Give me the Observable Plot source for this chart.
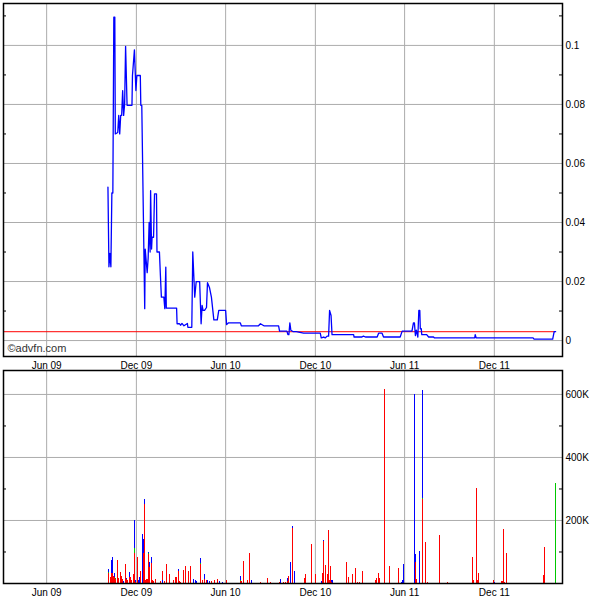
<!DOCTYPE html>
<html><head><meta charset="utf-8">
<script src="https://cdn.jsdelivr.net/npm/d3@7"></script>
<script src="https://cdn.jsdelivr.net/npm/@observablehq/plot@0.6"></script>
<style>
body{margin:0;background:#fff;}
#wrap{position:relative;width:600px;height:600px;overflow:hidden;}
#top,#bot{position:absolute;left:0;}
#top{top:0px}
#bot{top:365px}
</style></head><body><div id="wrap"><div id="top"></div><div id="bot"></div></div>
<script>
// ---- data ----
const priceDates = ["2009-10-04","2009-10-06","2009-10-08","2009-10-10","2009-10-12","2009-10-14","2009-10-16","2009-10-18","2009-10-19","2009-10-24","2009-10-26","2009-10-28","2009-10-30","2009-11-01","2009-11-03","2009-11-05","2009-11-07","2009-11-09","2009-11-12","2009-11-22","2009-11-23","2009-11-27","2009-11-30","2009-12-02","2009-12-09","2009-12-10","2009-12-12","2009-12-18","2009-12-19","2009-12-23","2009-12-25","2009-12-27","2009-12-29","2009-12-30","2010-01-01","2010-01-02","2010-01-05","2010-01-07","2010-01-11","2010-01-12","2010-01-17","2010-01-19","2010-01-21","2010-01-26","2010-01-28","2010-01-30","2010-01-31","2010-02-21","2010-02-22","2010-02-27","2010-03-01","2010-03-04","2010-03-08","2010-03-15","2010-03-16","2010-03-24","2010-03-26","2010-03-30","2010-04-02","2010-04-09","2010-04-12","2010-04-14","2010-04-16","2010-04-19","2010-04-23","2010-04-25","2010-04-29","2010-05-03","2010-05-08","2010-05-15","2010-05-18","2010-06-01","2010-06-03","2010-06-07","2010-07-01","2010-07-03","2010-08-07","2010-08-11","2010-08-18","2010-09-17","2010-09-19","2010-10-04","2010-10-06","2010-10-08","2010-10-10","2010-10-12","2010-10-17","2010-10-23","2010-11-07","2010-12-11","2010-12-13","2010-12-18","2010-12-21","2010-12-25","2010-12-28","2010-12-30","2011-01-02","2011-01-04","2011-02-17","2011-02-18","2011-03-06","2011-03-09","2011-03-13","2011-04-06","2011-04-09","2011-04-16","2011-04-19","2011-05-23","2011-05-27","2011-06-16","2011-06-19","2011-06-21","2011-06-23","2011-06-25","2011-06-28","2011-06-30","2011-07-02","2011-07-03","2011-07-05","2011-07-06","2011-07-16","2011-07-20","2011-07-30","2011-08-01","2011-10-22","2011-10-23","2011-10-25","2012-02-18","2012-02-20","2012-03-29","2012-04-01","2012-04-04"];
const prices = [0.052,0.025,0.0295,0.025,0.050,0.050,0.1096,0.1096,0.070,0.0705,0.0763,0.070,0.0763,0.0763,0.0847,0.0763,0.080,0.0997,0.0797,0.0797,0.0898,0.0985,0.0847,0.0898,0.0898,0.0797,0.0797,0.0108,0.031,0.023,0.028,0.040,0.030,0.0508,0.031,0.035,0.035,0.0497,0.0497,0.030,0.030,0.022,0.0147,0.0147,0.0108,0.0249,0.011,0.011,0.0057,0.0057,0.0052,0.0058,0.005,0.0058,0.0045,0.0045,0.030,0.0147,0.020,0.020,0.0057,0.0119,0.0102,0.0102,0.0112,0.0196,0.018,0.0147,0.007,0.007,0.0102,0.0102,0.0054,0.0060,0.0060,0.005,0.005,0.0057,0.005,0.005,0.0032,0.0032,0.002,0.002,0.006,0.0035,0.003,0.003,0.0025,0.0025,0.0009,0.0012,0.0009,0.0015,0.0015,0.0102,0.0085,0.002,0.002,0.0012,0.0012,0.0015,0.0012,0.0012,0.0025,0.0025,0.0012,0.0012,0.0032,0.0032,0.006,0.006,0.0017,0.0035,0.0012,0.0102,0.0102,0.004,0.004,0.002,0.002,0.0012,0.0012,0.0009,0.0009,0.002,0.0009,0.0009,0.0005,0.0005,0.003,0.003];
const refPrice = 0.003;

// volume, thousands of shares: red / green / blue portions
const volDates = ["2009-10-05","2009-10-09","2009-10-12","2009-10-14","2009-10-16","2009-10-18","2009-10-20","2009-10-23","2009-10-25","2009-10-29","2009-11-01","2009-11-03","2009-11-05","2009-11-09","2009-11-10","2009-11-13","2009-11-17","2009-11-18","2009-11-22","2009-11-25","2009-11-27","2009-11-29","2009-12-03","2009-12-05","2009-12-07","2009-12-10","2009-12-14","2009-12-16","2009-12-18","2009-12-20","2009-12-22","2009-12-24","2009-12-26","2009-12-28","2009-12-31","2010-01-02","2010-01-05","2010-01-09","2010-01-20","2010-01-23","2010-01-24","2010-01-27","2010-01-31","2010-02-01","2010-02-06","2010-02-14","2010-02-19","2010-02-21","2010-02-25","2010-02-27","2010-03-01","2010-03-08","2010-03-12","2010-03-17","2010-03-21","2010-03-28","2010-03-31","2010-04-02","2010-04-11","2010-04-15","2010-04-19","2010-04-23","2010-04-25","2010-04-29","2010-05-04","2010-05-09","2010-05-16","2010-05-20","2010-05-26","2010-06-03","2010-07-02","2010-07-04","2010-07-08","2010-07-16","2010-07-19","2010-07-24","2010-08-11","2010-08-26","2010-09-01","2010-09-19","2010-09-21","2010-09-27","2010-10-01","2010-10-06","2010-10-08","2010-10-12","2010-10-16","2010-10-20","2010-11-09","2010-11-11","2010-11-23","2010-12-01","2010-12-13","2010-12-15","2010-12-17","2010-12-21","2010-12-25","2010-12-27","2010-12-29","2010-12-31","2011-01-02","2011-01-04","2011-02-02","2011-02-06","2011-02-14","2011-02-21","2011-02-25","2011-03-01","2011-03-07","2011-04-03","2011-04-05","2011-04-09","2011-04-11","2011-04-21","2011-05-01","2011-05-20","2011-05-26","2011-05-28","2011-05-30","2011-06-21","2011-06-23","2011-06-25","2011-07-02","2011-07-07","2011-07-13","2011-07-17","2011-08-11","2011-08-28","2011-10-18","2011-10-20","2011-10-26","2011-10-28","2011-10-30","2011-11-30","2011-12-02","2011-12-15","2011-12-17","2011-12-20","2011-12-22","2011-12-26","2012-03-11","2012-03-12","2012-04-04"];
const volRed   = [33,18,31,31,22,18,14,73,15,36,22,12,0,61,12,11,19,20,8,29,96,4,83,0,0,38,0,96,250,8,14,14,91,50,64,8,6,14,6,38,0,6,0,61,27,11,19,19,38,6,4,42,55,38,53,0,0,0,61,8,14,8,0,0,6,10,12,0,0,10,6,6,71,10,96,0,4,16,4,4,0,4,4,6,21,0,176,0,15,28,125,28,0,31,133,56,28,169,10,53,4,0,67,19,29,48,4,4,38,10,15,32,15,616,54,48,0,0,0,0,67,12,0,267,130,4,152,4,83,8,302,10,32,10,0,6,6,171,3,95,25,114,0];
const volGreen = [2,0,2,2,0,0,2,0,0,0,0,0,0,0,2,0,0,0,0,0,16,0,0,0,0,0,0,0,0,0,0,0,5,0,0,0,0,0,0,0,0,0,0,0,0,0,0,0,0,0,0,0,0,0,0,0,0,0,3,0,0,0,0,0,0,0,0,0,0,0,2,0,0,0,0,0,0,0,0,0,0,0,0,0,0,0,0,0,0,0,0,0,0,0,0,0,0,0,0,0,0,0,0,0,0,0,0,0,0,0,0,0,0,0,0,0,0,0,0,0,0,0,0,3,0,0,0,0,0,0,0,0,0,0,0,0,0,0,0,0,0,0,318];
const volBlue  = [9,0,40,50,0,15,0,0,0,0,0,0,6,0,3,0,15,0,0,0,88,4,0,10,20,0,156,44,16,0,0,0,3,18,18,0,0,0,0,0,10,0,30,0,0,0,0,0,6,0,0,0,0,0,0,14,8,6,15,0,15,0,8,6,0,0,0,6,4,0,14,0,0,0,0,8,0,0,0,0,12,0,0,10,0,67,6,38,0,0,0,0,6,0,3,0,0,0,0,0,6,10,0,0,0,0,0,0,0,0,0,0,0,0,0,0,4,10,60,600,25,0,100,342,0,0,0,0,0,0,0,0,0,0,4,0,0,0,0,0,0,0,0];

const tickDates  = ["2009-06-01","2009-12-01","2010-06-01","2010-12-01","2011-06-01","2011-12-01"];
const tickLabels = ["Jun 09","Dec 09","Jun 10","Dec 10","Jun 11","Dec 11"];
const priceTicks = [0,0.02,0.04,0.06,0.08,0.1];
const priceMinor = [0.01,0.03,0.05,0.07,0.09,0.11];
const volTicks = [200,400,600];
const volMinor = [100,300,500];
const xStart = "2009-03-05", xEnd = "2012-04-18";

// ---- build ----
const parse = s => new Date(s + "T00:00:00Z");
const xDomain = [parse(xStart), parse(xEnd)];
const xt = tickDates.map(parse);
const labelOf = new Map(xt.map((d, i) => [+d, tickLabels[i]]));
const priceData = priceDates.map((d, i) => ({date: parse(d), price: prices[i]}));
const lastDate = priceData[priceData.length - 1].date;
const volData = [];
volDates.forEach((d, i) => {
  const date = parse(d);
  if (volRed[i]) volData.push({date, v: volRed[i], c: "r"});
  if (volGreen[i]) volData.push({date, v: volGreen[i], c: "g"});
  if (volBlue[i]) volData.push({date, v: volBlue[i], c: "b"});
});

const W = 600, ML = 3, MR = 38;
const FW = W - ML - MR;
const font = "'Liberation Sans', Arial, sans-serif";
const gridC = "#acacac";
const st = {background: "transparent", fontFamily: font, fontSize: "10px", color: "#000", overflow: "visible"};

const p1 = Plot.plot({
  width: W, height: 370, marginLeft: ML, marginRight: MR, marginTop: 3, marginBottom: 14,
  style: st,
  x: {type: "utc", domain: xDomain, label: null},
  y: {domain: [-0.0054, 0.1142], label: null},
  marks: [
    Plot.gridX(xt, {stroke: gridC, strokeOpacity: 1}),
    Plot.gridY(priceTicks, {stroke: gridC, strokeOpacity: 1}),
    Plot.tickY(priceMinor, {insetRight: FW - 3, stroke: "#000"}),
    Plot.tickY(priceMinor, {insetLeft: FW - 3, stroke: "#000"}),
    Plot.ruleY([refPrice], {x1: () => xDomain[0], x2: () => lastDate, stroke: "#ff0000", strokeWidth: 1}),
    Plot.line(priceData, {x: "date", y: "price", stroke: "#0000ff", strokeWidth: 1.3}),
    Plot.axisX(xt, {tickSize: 0, tickPadding: 5, tickFormat: d => labelOf.get(+d), fontSize: 10, label: null}),
    Plot.axisY(priceTicks, {anchor: "right", tickSize: 0, tickPadding: 3, tickFormat: d => String(d), fontSize: 10, label: null}),
    Plot.text(["©advfn.com"], {frameAnchor: "bottom-left", dx: 4, dy: -8, textAnchor: "start", lineAnchor: "middle", fontSize: 11, fill: "#333"}),
    Plot.frame({stroke: "#000", strokeWidth: 1.5})
  ]
});
document.getElementById("top").appendChild(p1);

const p2 = Plot.plot({
  width: W, height: 235, marginLeft: ML, marginRight: MR, marginTop: 5, marginBottom: 17,
  style: st,
  x: {type: "utc", domain: xDomain, label: null},
  y: {domain: [0, 676], label: null},
  color: {type: "ordinal", domain: ["r", "g", "b"], range: ["#ff0000", "#00c800", "#0000ff"]},
  marks: [
    Plot.gridX(xt, {stroke: gridC, strokeOpacity: 1}),
    Plot.gridY(volTicks, {stroke: gridC, strokeOpacity: 1}),
    Plot.tickY(volMinor, {insetRight: FW - 3, stroke: "#000"}),
    Plot.tickY(volMinor, {insetLeft: FW - 3, stroke: "#000"}),
    Plot.ruleX(volData, Plot.stackY({x: "date", y: "v", stroke: "c", order: null, strokeWidth: 1, shapeRendering: "crispEdges"})),
    Plot.axisX(xt, {tickSize: 0, tickPadding: 5, tickFormat: d => labelOf.get(+d), fontSize: 10, label: null}),
    Plot.axisY(volTicks, {anchor: "right", tickSize: 0, tickPadding: 3, tickFormat: d => d + "K", fontSize: 10, label: null}),
    Plot.frame({stroke: "#000", strokeWidth: 1.5})
  ]
});
document.getElementById("bot").appendChild(p2);
</script>
</body></html>
